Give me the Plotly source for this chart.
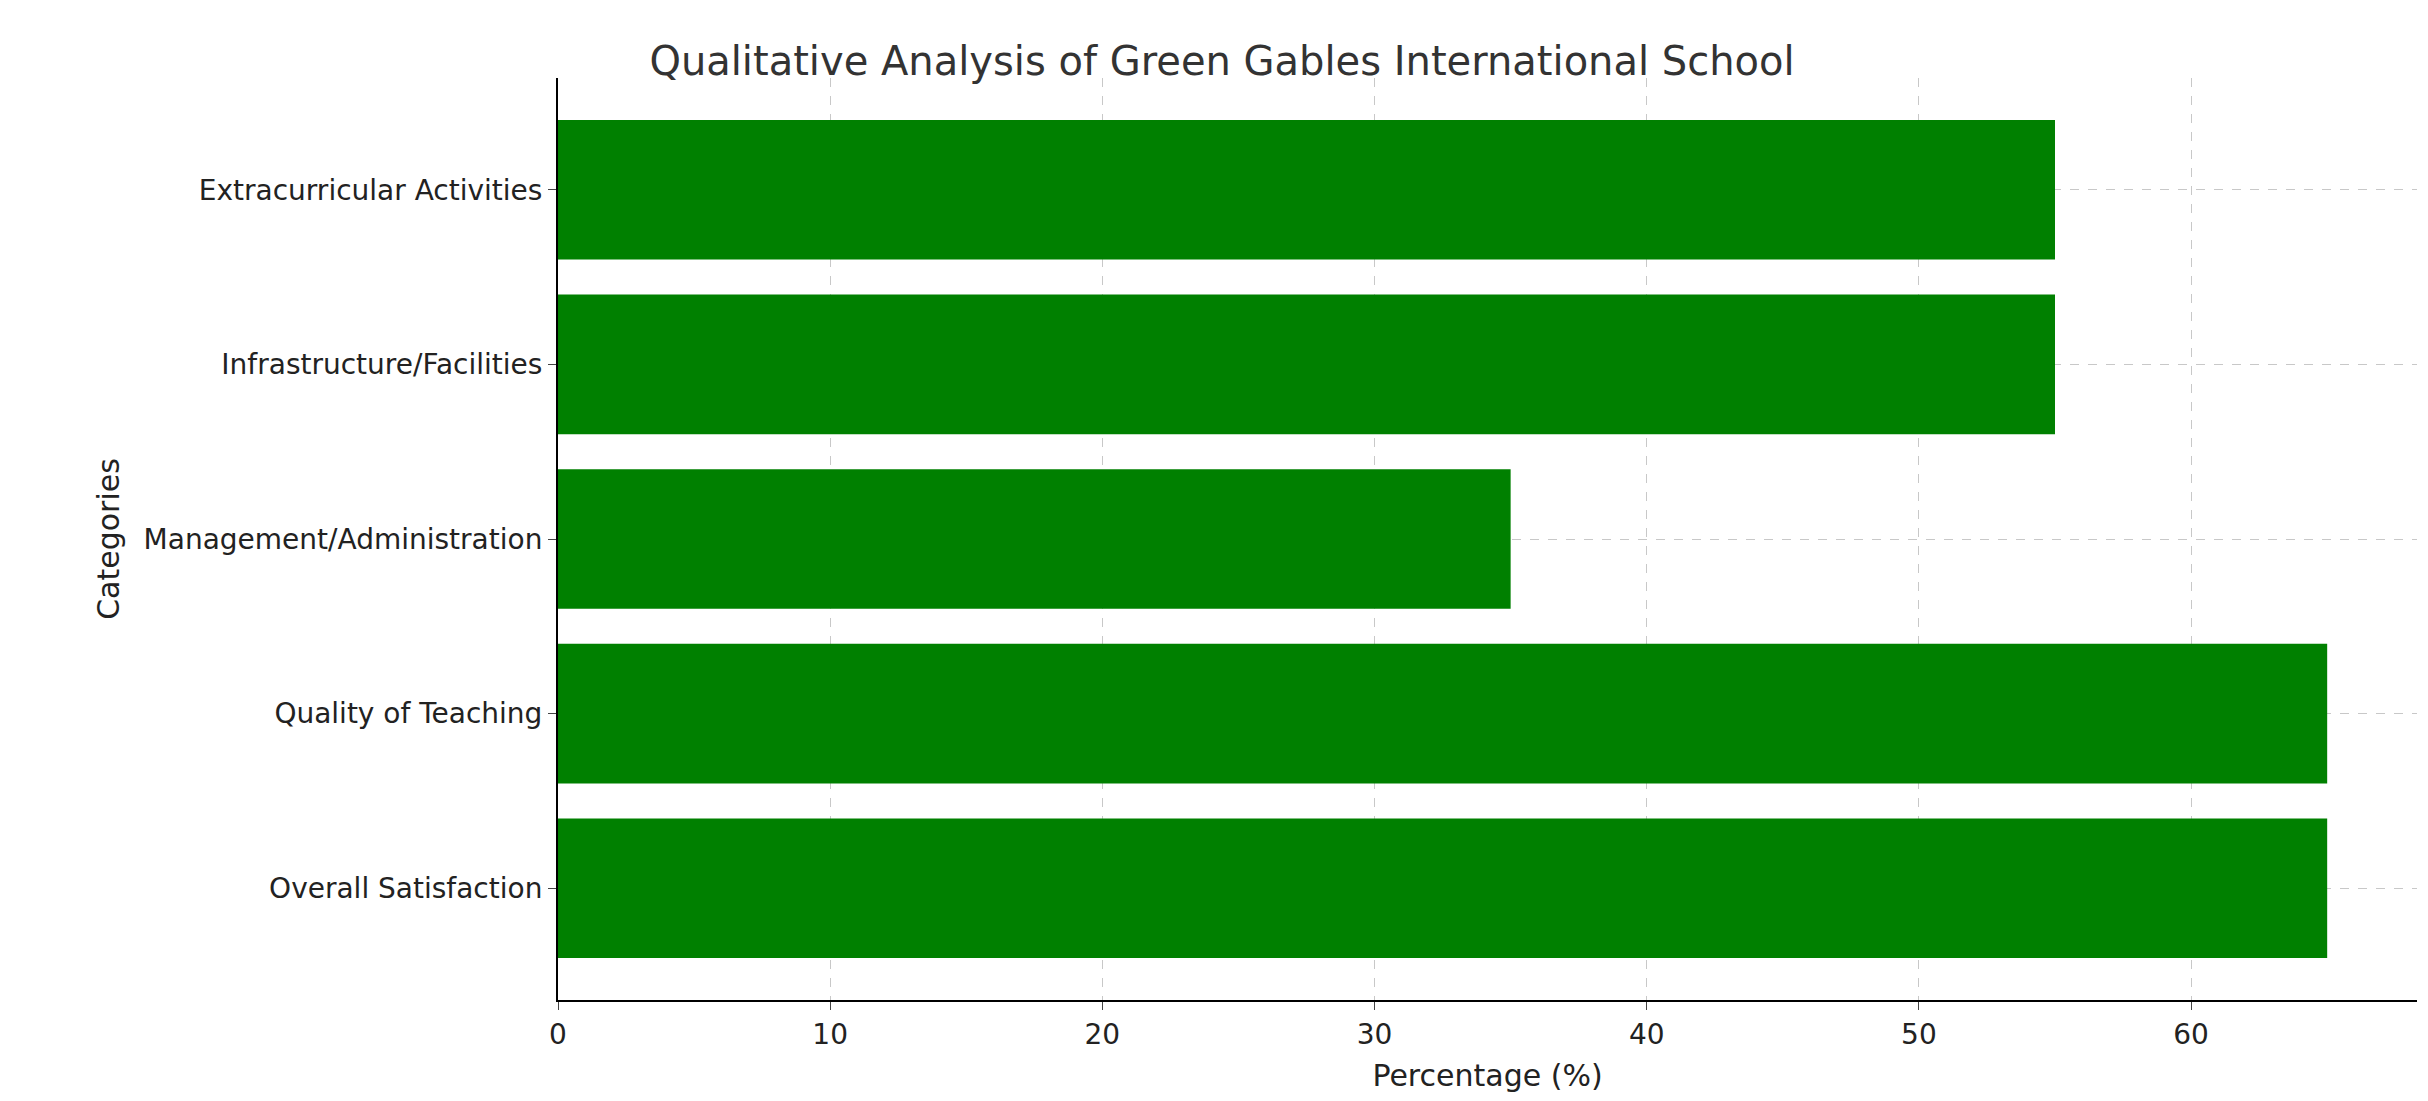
import plotly.graph_objects as go

categories = ["Overall Satisfaction", "Quality of Teaching", "Management/Administration",
              "Infrastructure/Facilities", "Extracurricular Activities"]
values = [65, 65, 35, 55, 55]

fig = go.Figure(go.Bar(y=categories, x=values, orientation="h", marker_color="green",
                       marker_line_width=0, width=0.8))
font = "DejaVu Sans"
fig.update_layout(
    width=2428, height=1101, plot_bgcolor="white", paper_bgcolor="white",
    margin=dict(l=550, r=19, t=70, b=109),
    title=dict(text="Qualitative Analysis of Green Gables International School", x=0.5,
               xanchor="center", y=0.965, font=dict(family=font, size=40, color="#333")),
    font=dict(family=font, size=28, color="#222"),
    bargap=0.2,
)
fig.update_xaxes(range=[0, 68.3], dtick=10, showgrid=True, gridcolor="#c8c8c8", griddash="dash",
                 showline=True, linecolor="black", linewidth=2, ticks="outside", ticklen=8,
                 title=dict(text="Percentage (%)", font=dict(size=30)), zeroline=False)
fig.update_yaxes(range=[-0.64, 4.64], showgrid=True, gridcolor="#c8c8c8", griddash="dash",
                 showline=True, linecolor="black", linewidth=2, ticks="outside", ticklen=8,
                 title=dict(text="Categories", font=dict(size=30)), categoryorder="array",
                 categoryarray=categories)
fig.write_html("out.html")
